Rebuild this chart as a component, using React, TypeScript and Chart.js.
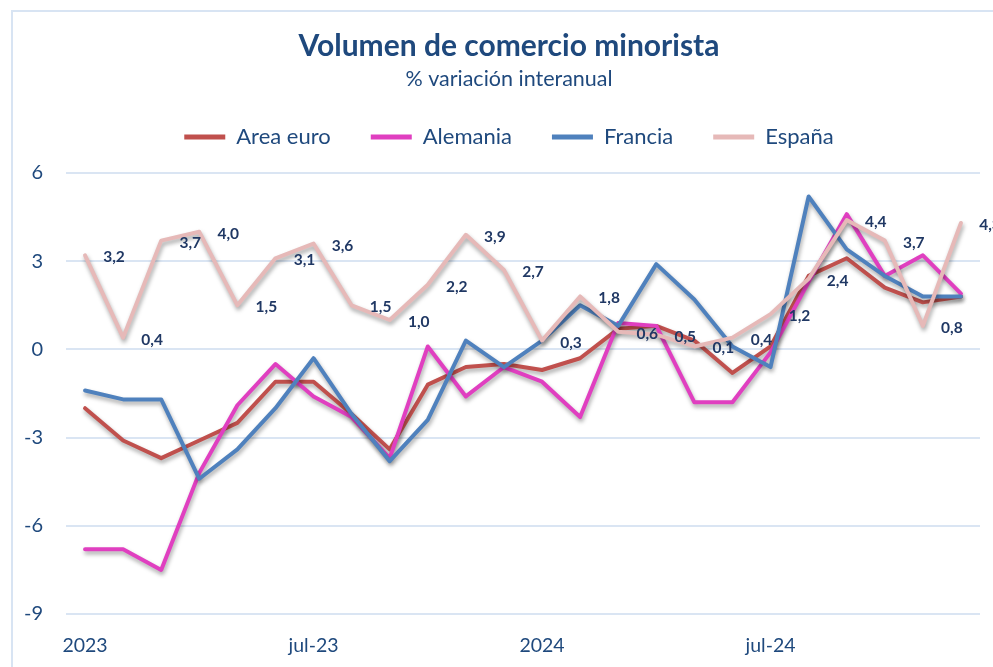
import React, { useEffect, useRef } from 'react';
import { Chart, registerables } from 'chart.js';

Chart.register(...registerables);

const months = [
  'ene-23', 'feb-23', 'mar-23', 'abr-23', 'may-23', 'jun-23', 'jul-23', 'ago-23', 'sep-23', 'oct-23', 'nov-23', 'dic-23',
  'ene-24', 'feb-24', 'mar-24', 'abr-24', 'may-24', 'jun-24', 'jul-24', 'ago-24', 'sep-24', 'oct-24', 'nov-24', 'dic-24',
];
const xTickLabels = [
  '2023', '', '', '', '', '', 'jul-23', '', '', '', '', '',
  '2024', '', '', '', '', '', 'jul-24', '', '', '', '', '',
];

const areaEuro = [-2.0, -3.1, -3.7, -3.1, -2.5, -1.1, -1.1, -2.2, -3.4, -1.2, -0.6, -0.5, -0.7, -0.3, 0.7, 0.8, 0.3, -0.8, 0.1, 2.5, 3.1, 2.1, 1.6, 1.8];
const alemania = [-6.8, -6.8, -7.5, -4.2, -1.9, -0.5, -1.6, -2.3, -3.7, 0.1, -1.6, -0.6, -1.1, -2.3, 0.9, 0.8, -1.8, -1.8, -0.1, 2.3, 4.6, 2.5, 3.2, 1.9];
const francia = [-1.4, -1.7, -1.7, -4.4, -3.4, -2.0, -0.3, -2.2, -3.8, -2.4, 0.3, -0.6, 0.3, 1.5, 0.8, 2.9, 1.7, 0.1, -0.6, 5.2, 3.4, 2.5, 1.8, 1.8];
const espana = [3.2, 0.4, 3.7, 4.0, 1.5, 3.1, 3.6, 1.5, 1.0, 2.2, 3.9, 2.7, 0.3, 1.8, 0.6, 0.5, 0.1, 0.4, 1.2, 2.4, 4.4, 3.7, 0.8, 4.3];

const seriesNames = ['Area euro', 'Alemania', 'Francia', 'España'];
const seriesColors = ['#C0504D', '#E03FC0', '#4F81BD', '#E6B9B8'];
const seriesValues = [areaEuro, alemania, francia, espana];
const seriesOrder = [3, 2, 1, 0];

const yMin = -9;
const yMax = 6;
const yStep = 3;

const FONT = 'Lato, "Open Sans", sans-serif';
const LEGEND_HEIGHT = 87;
const HEADER_SHIFT = 38;

const fmt = (v: number) => v.toFixed(1).replace('.', ',');

const headerPlugin = {
  id: 'headerLayout',
  afterInit(chart: any) {
    const lg = chart.legend;
    if (lg && !lg.__patched) {
      const orig = lg.fit;
      lg.fit = function (...args: any[]) {
        orig.apply(this, args);
        this.height = LEGEND_HEIGHT;
      };
      lg.__patched = true;
    }
  },
  afterLayout(chart: any) {
    chart.boxes.forEach((b: any) => {
      if (b.position === 'top' && !b.axis) {
        b.left += HEADER_SHIFT;
      }
    });
  },
};

const shadowPlugin = {
  id: 'lineShadow',
  beforeDatasetDraw(chart: any) {
    const ctx = chart.ctx;
    ctx.save();
    ctx.shadowColor = 'rgba(0,0,0,0.35)';
    ctx.shadowBlur = 4;
    ctx.shadowOffsetX = 1;
    ctx.shadowOffsetY = 3;
  },
  afterDatasetDraw(chart: any) {
    chart.ctx.restore();
  },
};

const labelPlugin = {
  id: 'espanaLabels',
  afterDatasetsDraw(chart: any) {
    const meta = chart.getDatasetMeta(3);
    const ctx = chart.ctx;
    ctx.save();
    ctx.font = `bold 15.5px ${FONT}`;
    ctx.fillStyle = '#203864';
    ctx.textAlign = 'center';
    ctx.textBaseline = 'middle';
    meta.data.forEach((pt: any, i: number) => {
      ctx.fillText(fmt(espana[i]), pt.x + 29, pt.y + 2);
    });
    ctx.restore();
  },
};

export default function App() {
  const canvasRef = useRef<HTMLCanvasElement | null>(null);

  useEffect(() => {
    if (!canvasRef.current) return;
    const chart = new Chart(canvasRef.current, {
      type: 'line',
      data: {
        labels: months,
        datasets: seriesNames.map((name, i) => ({
          label: name,
          data: seriesValues[i],
          borderColor: seriesColors[i],
          backgroundColor: seriesColors[i],
          borderWidth: 4,
          pointRadius: 0,
          pointHoverRadius: 0,
          tension: 0,
          borderJoinStyle: 'round' as const,
          borderCapStyle: 'round' as const,
          order: seriesOrder[i],
        })),
      },
      options: {
        animation: false,
        responsive: true,
        maintainAspectRatio: false,
        layout: { padding: { left: 0, right: 13, top: 0, bottom: 0 } },
        plugins: {
          tooltip: { enabled: false },
          title: {
            display: true,
            text: 'Volumen de comercio minorista',
            color: '#1F497D',
            font: { family: FONT, size: 30, weight: 'bold' },
            padding: { top: 28, bottom: 0 },
          },
          subtitle: {
            display: true,
            text: '% variación interanual',
            color: '#1F497D',
            font: { family: FONT, size: 21.5, weight: 'normal' },
            padding: { top: 2.1, bottom: -5.9 },
          },
          legend: {
            display: true,
            position: 'top',
            labels: {
              boxWidth: 41,
              boxHeight: 5,
              padding: 40,
              color: '#1F497D',
              font: { family: FONT, size: 22 },
              sort: (a: any, b: any) => a.datasetIndex - b.datasetIndex,
              generateLabels: (c: any) =>
                Chart.defaults.plugins.legend.labels.generateLabels(c).map((l: any) => ({
                  ...l,
                  lineWidth: 0,
                  fillStyle: seriesColors[l.datasetIndex],
                })),
            },
          },
        },
        scales: {
          x: {
            offset: true,
            grid: { display: false, drawTicks: false },
            border: { display: false },
            ticks: {
              autoSkip: false,
              maxRotation: 0,
              minRotation: 0,
              padding: 20,
              color: '#1F497D',
              font: { family: FONT, size: 19.5 },
              callback: (_v: any, idx: number) => xTickLabels[idx],
            },
            afterFit: (scale: any) => {
              scale.height = 53;
            },
          },
          y: {
            min: yMin,
            max: yMax,
            grid: { color: '#DAE5F3', lineWidth: 2, drawTicks: false },
            border: { display: false },
            ticks: {
              stepSize: yStep,
              padding: 23,
              color: '#1F497D',
              font: { family: FONT, size: 20 },
            },
            afterFit: (scale: any) => {
              scale.width = 66;
            },
          },
        },
      },
      plugins: [headerPlugin, shadowPlugin, labelPlugin],
    });
    return () => chart.destroy();
  }, []);

  return (
    <div style={{ position: 'absolute', left: 0, top: 0, width: 993, height: 667, overflow: 'hidden', background: '#fff' }}>
      <div
        style={{
          position: 'absolute',
          left: 11,
          top: 10,
          width: 982,
          height: 657,
          borderTop: '2px solid #D8E4F3',
          borderLeft: '2px solid #D8E4F3',
          boxSizing: 'border-box',
        }}
      />
      <div style={{ position: 'absolute', left: 0, top: 0, width: 993, height: 667 }}>
        <canvas ref={canvasRef} />
      </div>
    </div>
  );
}
